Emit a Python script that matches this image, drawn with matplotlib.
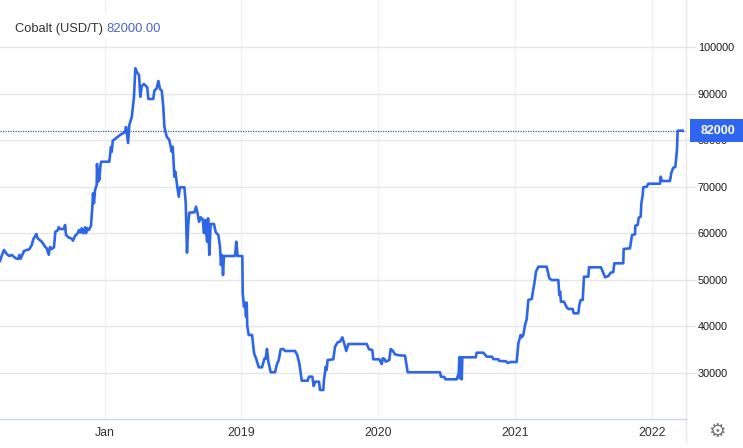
import matplotlib
matplotlib.use("Agg")
import matplotlib.pyplot as plt
from matplotlib.patches import Rectangle

plt.rcParams["font.family"] = ["Liberation Sans", "DejaVu Sans"]

# time in fractional years, price in USD/T
years = [2017.237, 2017.249, 2017.266, 2017.286, 2017.305, 2017.323, 2017.352, 2017.371, 2017.378, 2017.388,
         2017.403, 2017.412, 2017.432, 2017.451, 2017.469, 2017.480, 2017.502, 2017.512, 2017.542, 2017.566,
         2017.578, 2017.593, 2017.602, 2017.614, 2017.631, 2017.641, 2017.656, 2017.666, 2017.675, 2017.704,
         2017.712, 2017.719, 2017.736, 2017.761, 2017.770, 2017.784, 2017.804, 2017.814, 2017.823, 2017.833,
         2017.845, 2017.858, 2017.865, 2017.874, 2017.885, 2017.901, 2017.911, 2017.916, 2017.923, 2017.931,
         2017.943, 2017.945, 2017.953, 2017.958, 2017.962, 2017.972, 2017.977, 2018.035, 2018.047, 2018.053,
         2018.060, 2018.077, 2018.113, 2018.150, 2018.157, 2018.172, 2018.181, 2018.199, 2018.215, 2018.225,
         2018.239, 2018.252, 2018.261, 2018.272, 2018.288, 2018.312, 2018.320, 2018.356, 2018.364, 2018.381,
         2018.393, 2018.405, 2018.418, 2018.429, 2018.437, 2018.454, 2018.473, 2018.491, 2018.498, 2018.510,
         2018.517, 2018.531, 2018.542, 2018.551, 2018.583, 2018.593, 2018.602, 2018.612, 2018.619, 2018.656,
         2018.668, 2018.677, 2018.690, 2018.702, 2018.717, 2018.726, 2018.736, 2018.748, 2018.756, 2018.765,
         2018.775, 2018.799, 2018.812, 2018.831, 2018.843, 2018.850, 2018.858, 2018.865, 2018.872, 2018.953,
         2018.962, 2018.972, 2019.006, 2019.009, 2019.018, 2019.026, 2019.033, 2019.038, 2019.042, 2019.053,
         2019.077, 2019.092, 2019.106, 2019.126, 2019.150, 2019.167, 2019.177, 2019.186, 2019.196, 2019.213,
         2019.245, 2019.257, 2019.272, 2019.286, 2019.305, 2019.318, 2019.391, 2019.407, 2019.422, 2019.440,
         2019.483, 2019.493, 2019.517, 2019.527, 2019.539, 2019.566, 2019.573, 2019.597, 2019.602, 2019.615,
         2019.621, 2019.629, 2019.670, 2019.683, 2019.702, 2019.719, 2019.736, 2019.751, 2019.765, 2019.780,
         2019.914, 2019.931, 2019.955, 2019.962, 2020.006, 2020.024, 2020.031, 2020.044, 2020.053, 2020.079,
         2020.089, 2020.104, 2020.120, 2020.152, 2020.194, 2020.203, 2020.213, 2020.449, 2020.456, 2020.481,
         2020.488, 2020.571, 2020.586, 2020.590, 2020.595, 2020.600, 2020.608, 2020.612, 2020.710, 2020.717,
         2020.765, 2020.778, 2020.790, 2020.829, 2020.838, 2020.875, 2020.882, 2020.931, 2020.943, 2020.965,
         2021.009, 2021.021, 2021.038, 2021.046, 2021.057, 2021.070, 2021.082, 2021.094, 2021.119, 2021.126,
         2021.138, 2021.150, 2021.167, 2021.228, 2021.247, 2021.265, 2021.313, 2021.320, 2021.326, 2021.332,
         2021.354, 2021.374, 2021.386, 2021.418, 2021.425, 2021.459, 2021.466, 2021.476, 2021.491, 2021.500,
         2021.532, 2021.537, 2021.624, 2021.641, 2021.654, 2021.678, 2021.695, 2021.714, 2021.722, 2021.787,
         2021.790, 2021.836, 2021.851, 2021.873, 2021.875, 2021.892, 2021.900, 2021.914, 2021.919, 2021.929,
         2021.933, 2021.958, 2021.970, 2022.055, 2022.060, 2022.070, 2022.128, 2022.138, 2022.152, 2022.167,
         2022.179, 2022.184, 2022.221]
prices = [53980, 55050, 56350, 55480, 55050, 55270, 54560, 54410, 55270, 54470,
          55480, 56130, 56350, 56500, 57420, 58650, 59780, 58860, 58130, 57050,
          56710, 55330, 56990, 56560, 56920, 60280, 60500, 61230, 60860, 60860,
          61720, 59570, 59080, 58780, 58350, 59350, 59940, 60650, 60070, 61010,
          59940, 61230, 59940, 61010, 60650, 61510, 65660, 68540, 66390, 69250,
          70320, 74840, 71030, 73550, 71400, 74990, 75330, 75330, 78490, 77480,
          79850, 80220, 81080, 81720, 82800, 79360, 83230, 84950, 89250, 95420,
          94470, 93980, 89310, 91610, 92040, 91330, 88820, 88820, 90600, 91120,
          92690, 90970, 90600, 87160, 82860, 80710, 80000, 77480, 78560, 72110,
          73180, 69960, 67810, 69830, 69830, 66450, 55760, 62150, 64370, 64450,
          65660, 64580, 62430, 63380, 62950, 60000, 62800, 58130, 63160, 55270,
          61940, 61940, 60150, 59570, 57050, 53120, 55270, 50970, 55050, 55050,
          58130, 55050, 55050, 47030, 44150, 45010, 42000, 45010, 40000, 38060,
          38060, 34130, 33050, 31120, 31120, 32970, 32970, 35060, 32330, 30050,
          30050, 31610, 32690, 34990, 35060, 34630, 34630, 33770, 31980, 28240,
          28240, 29100, 29100, 27100, 28020, 28020, 26240, 26240, 28390, 31250,
          30540, 32690, 32840, 35550, 36500, 36630, 37570, 36130, 34630, 36130,
          36130, 34990, 34840, 32840, 32840, 31830, 33050, 32900, 32330, 32690,
          35060, 34690, 33910, 33700, 33610, 31980, 30050, 30050, 29100, 29030,
          28540, 28540, 29830, 33270, 28760, 33270, 28540, 33270, 33270, 34260,
          34260, 33830, 33400, 33400, 32900, 32840, 32470, 32410, 32040, 32260,
          32260, 36280, 38060, 37570, 38060, 40220, 41440, 45590, 45810, 47160,
          49180, 51680, 52760, 52760, 50260, 49890, 49890, 46670, 47380, 45230,
          45230, 44030, 43660, 43660, 42730, 42730, 44520, 45590, 45590, 50600,
          50600, 52620, 52620, 51460, 50470, 50750, 51460, 51610, 53480, 53480,
          56560, 56710, 59570, 59720, 61570, 61720, 63290, 63510, 66390, 68170,
          69830, 69960, 70600, 70600, 72110, 71180, 71180, 72970, 74040, 74190,
          77850, 82000, 82000]

y_ticks = [30000, 40000, 50000, 60000, 70000, 80000, 90000, 100000]
x_ticks = [2018, 2019, 2020, 2021, 2022]
x_labels = ["Jan", "2019", "2020", "2021", "2022"]
last_price = 82000

W, H = 743, 448
fig = plt.figure(figsize=(W / 100, H / 100), dpi=100, facecolor="white")
ax = fig.add_axes([0, 29 / H, 686 / W, 419 / H])
ax.set_xlim(2017.237, 2022.245)
ax.set_ylim(20000, 110108)
ax.set_axisbelow(True)

for s in ["top", "left"]:
    ax.spines[s].set_visible(False)
ax.spines["bottom"].set_color("#ccd6e4")
ax.spines["bottom"].set_linewidth(1)
ax.spines["right"].set_color("#e6e6e6")
ax.spines["right"].set_linewidth(1)
ax.spines["right"].set_bounds(15050, 110108)

ax.yaxis.tick_right()
ax.set_yticks(y_ticks)
ax.set_yticklabels([str(v) for v in y_ticks], fontsize=7.8, color="#1a1a1a")
ax.tick_params(axis="y", length=7.2, width=1, color="#e6e6e6", pad=1.2)
ax.set_xticks(x_ticks)
ax.set_xticklabels(x_labels, fontsize=8.9, color="#333333")
ax.tick_params(axis="x", length=0, pad=6)
ax.grid(axis="y", color="#e6e6e6", lw=1)
ax.grid(axis="x", color="#f0f2f5", lw=1)

ax.axhline(last_price, color="#3a5fb0", lw=0.9, ls=(0, (1, 1)), zorder=2)
ax.plot(years, prices, color="#2e66e8", lw=1.9, solid_joinstyle="round", zorder=3)

# last price tag, sits on top of the 80000 label
fig.add_artist(Rectangle((690 / W, 1 - 142 / H), 53 / W, 23 / H, transform=fig.transFigure,
                         facecolor="#2e66f0", edgecolor="none", zorder=5))
fig.text(718 / W, 1 - 131 / H, "82000", color="white", fontsize=9, fontweight="bold",
         ha="center", va="center", zorder=6)

# white strip behind the title, breaks the gridline there
fig.add_artist(Rectangle((12 / W, 1 - 38 / H), 153 / W, 23 / H, transform=fig.transFigure,
                         facecolor="white", edgecolor="none", zorder=5))
fig.text(15 / W, 1 - 29 / H, "Cobalt (USD/T)", color="#333333", fontsize=9.3, va="center", zorder=6)
fig.text(106.5 / W, 1 - 29 / H, "82000.00", color="#4a67c8", fontsize=9.4, va="center", zorder=6)

fig.text(717 / W, 1 - 431 / H, "\u2699", color="#777777", fontsize=14, family="DejaVu Sans",
         ha="center", va="center")

fig.savefig("out.png", dpi=100)
